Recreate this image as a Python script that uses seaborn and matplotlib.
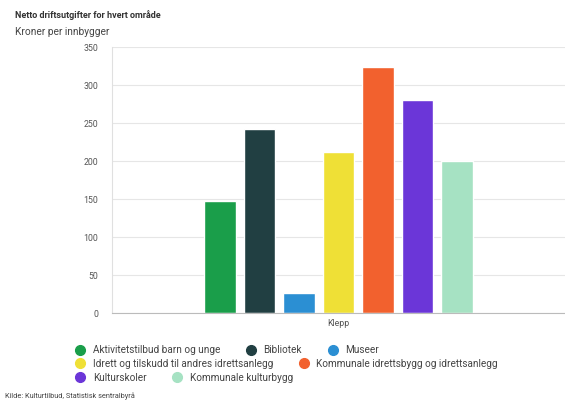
import pandas as pd
import matplotlib.pyplot as plt
import seaborn as sns

# Data
kommune = ["Klepp"]
omrader = ["Aktivitetstilbud barn og unge", "Bibliotek", "Museer",
           "Idrett og tilskudd til andres idrettsanlegg",
           "Kommunale idrettsbygg og idrettsanlegg", "Kulturskoler",
           "Kommunale kulturbygg"]
kroner = [147, 242, 26, 212, 324, 280, 200]
farger = ["#1a9e4a", "#213f42", "#2b8fd3", "#efe036", "#f2612e", "#6b36d8", "#a6e2c3"]
yticks = [0, 50, 100, 150, 200, 250, 300, 350]

df = pd.DataFrame({"Kommune": kommune * len(omrader), "Område": omrader, "Kroner": kroner})

sns.set_style("white")
plt.rcParams['font.family'] = ['Roboto', 'DejaVu Sans']

fig = plt.figure(figsize=(5.65, 4.03), dpi=100)
ax = fig.add_axes([0.198, 0.223, 0.802, 0.66])

sns.barplot(data=df, x="Kommune", y="Kroner", hue="Område", palette=farger,
            width=0.61, gap=0.2, ax=ax, legend=True, saturation=1)

ax.set_xlim(-0.5, 0.5)
ax.set_ylim(0, 350)
ax.set_yticks(yticks)
ax.yaxis.grid(True, color="#e6e6e6", linewidth=0.8)
ax.set_axisbelow(True)
for s in ["top", "right"]:
    ax.spines[s].set_visible(False)
ax.spines["left"].set_color("#e0e0e0")
ax.spines["bottom"].set_color("#bbbbbb")
ax.tick_params(axis="both", labelsize=6.3, colors="#555555", length=0, pad=10)
ax.tick_params(axis="x", pad=4)
ax.set_xlabel("")
ax.set_ylabel("")

handles, labels = ax.get_legend_handles_labels()
ax.get_legend().remove()

# Legend in rows, like the flowing legend of the original
rader = [[0, 1, 2], [3, 4], [5, 6]]
ypos = [0.131, 0.097, 0.063]
for rad, y in zip(rader, ypos):
    h = [plt.Line2D([], [], marker="o", linestyle="", markersize=7,
                    color=farger[i]) for i in rad]
    fig.legend(h, [labels[i] for i in rad], loc="center left",
               bbox_to_anchor=(0.133, y), ncol=len(rad), frameon=False,
               fontsize=7.2, handletextpad=0.75, columnspacing=2.6,
               handlelength=1.0, borderaxespad=0, borderpad=0,
               labelcolor="#444444")

fig.text(0.026, 0.955, "Netto driftsutgifter for hvert område", fontsize=6.5,
         fontweight="bold", color="#333333")
fig.text(0.026, 0.913, "Kroner per innbygger", fontsize=7.3, color="#444444")
fig.text(0.008, 0.012, "Kilde: Kulturtilbud, Statistisk sentralbyrå", fontsize=5.3,
         color="#444444")

fig.savefig("out.png", dpi=100)
